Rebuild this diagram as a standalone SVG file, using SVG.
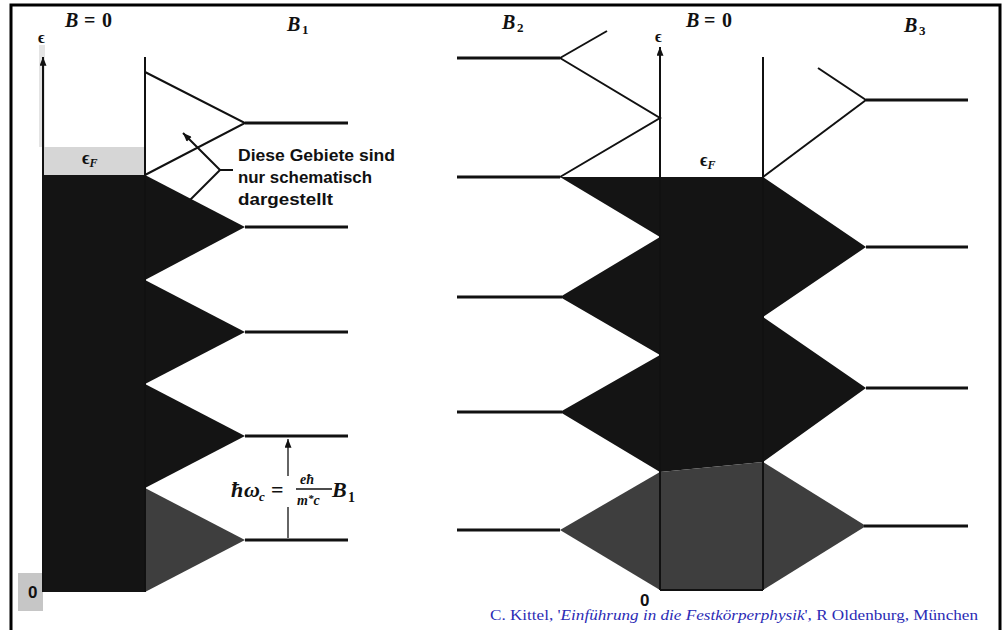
<svg xmlns="http://www.w3.org/2000/svg" width="1006" height="630" viewBox="0 0 1006 630">
<defs>
<style>
.lvl{stroke:#111;stroke-width:3.2;fill:none}
.edge{stroke:#111;stroke-width:2;fill:none}
.thin{stroke:#111;stroke-width:1.3;fill:none}
.blk{fill:#141414}
.gry{fill:#3e3e3e}
.lab{font-family:"Liberation Serif","DejaVu Serif",serif;font-weight:bold;fill:#111}
.it{font-style:italic}
.sans{font-family:"Liberation Sans",Arial,sans-serif;font-weight:bold;fill:#111}
.note{font-family:"Liberation Sans",Arial,sans-serif;font-weight:bold;font-size:17px;fill:#111}
.cite{font-family:"Liberation Serif",serif;font-size:14px;fill:#2b2bb5}
</style>
<marker id="ah" viewBox="0 0 10 8" refX="10" refY="4" markerWidth="10" markerHeight="7" markerUnits="userSpaceOnUse" orient="auto"><path d="M0,0 L10,4 L0,8 z" fill="#111"/></marker>
</defs>
<rect x="0" y="0" width="1006" height="630" fill="#ffffff"/>
<path d="M11,630 V5 H1000 V630" fill="none" stroke="#000" stroke-width="3"/>

<g id="panel-left">
  <rect x="39" y="45" width="6" height="102" fill="#e4e4e4"/>
  <rect x="43" y="147" width="102" height="28" fill="#d6d6d6"/>
  <rect x="18" y="573" width="25" height="38" fill="#c6c6c6"/>
  <rect class="blk" x="43" y="175" width="102" height="417"/>
  <polygon class="blk" points="145,175 245,227 145,280"/>
  <polygon class="blk" points="145,280 245,332 145,384"/>
  <polygon class="blk" points="145,384 245,436 145,488"/>
  <polygon class="gry" points="145,488 245,540 145,592"/>
  <polyline class="edge" points="145,72 245,123 145,175"/>
  <line class="edge" x1="145" y1="57" x2="145" y2="592"/>
  <line class="lvl" x1="245" y1="123" x2="348" y2="123"/>
  <line class="lvl" x1="245" y1="227" x2="348" y2="227"/>
  <line class="lvl" x1="245" y1="332" x2="348" y2="332"/>
  <line class="lvl" x1="245" y1="436" x2="348" y2="436"/>
  <line class="lvl" x1="245" y1="540" x2="348" y2="540"/>
</g>

<g id="panel-right">
  <path class="blk" d="M560,177 L763,177 L866,247 L763,317 L866,388 L763,462 L660,472 L560,412 L660,355 L560,297 L660,237 Z"/>
  <path class="gry" d="M660,472 L763,462 L866,526 L763,590 L660,590 L560,530 Z"/>
  <line class="edge" x1="560" y1="58" x2="607" y2="31"/>
  <polyline class="edge" points="560,58 660,118 560,177"/>
  <line class="edge" x1="866" y1="100" x2="818" y2="68"/>
  <line class="edge" x1="866" y1="100" x2="763" y2="177"/>
  <line class="edge" x1="763" y1="57" x2="763" y2="590"/>
  <line class="edge" x1="660" y1="472" x2="660" y2="590"/>
  <line class="edge" x1="660" y1="590" x2="763" y2="590"/>
  <line class="lvl" x1="457" y1="58" x2="560" y2="58"/>
  <line class="lvl" x1="457" y1="177" x2="560" y2="177"/>
  <line class="lvl" x1="457" y1="297" x2="562" y2="297"/>
  <line class="lvl" x1="457" y1="412" x2="562" y2="412"/>
  <line class="lvl" x1="457" y1="530" x2="560" y2="530"/>
  <line class="lvl" x1="866" y1="100" x2="968" y2="100"/>
  <line class="lvl" x1="866" y1="247" x2="968" y2="247"/>
  <line class="lvl" x1="866" y1="388" x2="968" y2="388"/>
  <line class="lvl" x1="864" y1="526" x2="968" y2="526"/>
</g>

<g id="connectors">
  <line class="edge" x1="43" y1="592" x2="43" y2="57" marker-end="url(#ah)"/>
  <line class="edge" x1="660" y1="590" x2="660" y2="47" marker-end="url(#ah)"/>
  <path class="edge" d="M233,170 H220 L183,133" marker-end="url(#ah)"/>
  <path class="edge" d="M220,170 L190,200"/>
  <line class="thin" x1="288" y1="476" x2="288" y2="439" marker-end="url(#ah)"/>
  <line class="thin" x1="288" y1="507" x2="288" y2="538"/>
</g>

<g id="labels-left">
  <text class="lab it" font-size="20" x="65" y="27">B</text>
  <text class="lab" font-size="20" x="84" y="27">=</text>
  <text class="lab" font-size="20" x="102" y="27">0</text>
  <text class="lab it" font-size="20" x="287" y="31">B</text>
  <text class="lab" font-size="13" x="302" y="34">1</text>
  <text class="lab" font-size="16" x="38" y="43">ϵ</text>
  <text class="lab" font-size="18" x="82" y="164">ϵ<tspan class="it" font-size="12" dy="3">F</tspan></text>
  <text class="sans" font-size="17" x="28" y="598">0</text>
</g>

<g id="note">
  <text class="note" x="238" y="161" textLength="157" lengthAdjust="spacingAndGlyphs">Diese Gebiete sind</text>
  <text class="note" x="238" y="183" textLength="134" lengthAdjust="spacingAndGlyphs">nur schematisch</text>
  <text class="note" x="238" y="205" textLength="95" lengthAdjust="spacingAndGlyphs">dargestellt</text>
</g>

<g id="formula">
  <text class="lab it" font-size="22" x="231" y="497">ħ</text>
  <text class="lab it" font-size="22" x="244" y="497">ω</text>
  <text class="lab it" font-size="13" x="259" y="501">c</text>
  <text class="lab" font-size="22" x="271" y="497">=</text>
  <text class="lab it" font-size="14" x="300" y="484">eħ</text>
  <line x1="296" y1="489" x2="332" y2="489" stroke="#111" stroke-width="1.6"/>
  <text class="lab it" font-size="14" x="297" y="505">m<tspan font-size="11" dy="-3">*</tspan><tspan dy="3">c</tspan></text>
  <text class="lab it" font-size="22" x="332" y="497">B</text>
  <text class="lab" font-size="14" x="348" y="502">1</text>
</g>

<g id="labels-right">
  <text class="lab it" font-size="20" x="502" y="29">B</text>
  <text class="lab" font-size="13" x="517" y="32">2</text>
  <text class="lab it" font-size="20" x="686" y="27">B</text>
  <text class="lab" font-size="20" x="704" y="27">=</text>
  <text class="lab" font-size="20" x="722" y="27">0</text>
  <text class="lab it" font-size="20" x="904" y="32">B</text>
  <text class="lab" font-size="13" x="919" y="35">3</text>
  <text class="lab" font-size="16" x="655" y="42">ϵ</text>
  <text class="lab" font-size="18" x="700" y="166">ϵ<tspan class="it" font-size="12" dy="3">F</tspan></text>
  <text class="sans" font-size="17" x="640" y="606">0</text>
</g>

<g id="citation">
  <text class="cite" x="490" y="620" textLength="488" lengthAdjust="spacingAndGlyphs">C. Kittel, '<tspan font-style="italic">Einführung in die Festkörperphysik</tspan>', R Oldenburg, München</text>
</g>
</svg>
